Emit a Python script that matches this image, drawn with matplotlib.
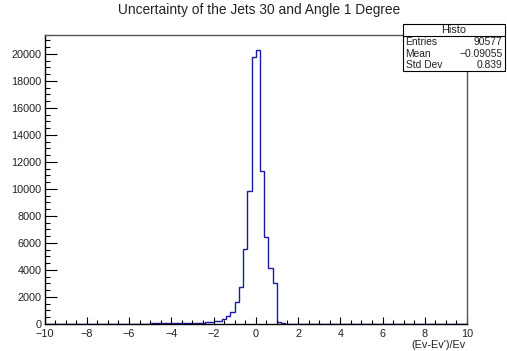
"""
Histogram of the relative energy uncertainty (Ev-Ev')/Ev, drawn in the ROOT look.
"""
import matplotlib.pyplot as plt
from matplotlib.patches import Rectangle
from matplotlib.ticker import MultipleLocator

plt.rcParams['font.family'] = ['Liberation Sans', 'DejaVu Sans']

# 100 bins of width 0.2 between -10 and 10
x_low = -10.0
x_high = 10.0
bin_width = 0.2
counts = [
    8, 9, 10, 10, 11, 12, 12, 13, 14, 15,
    16, 17, 18, 19, 20, 22, 23, 24, 26, 28,
    30, 32, 33, 35, 37, 39, 41, 43, 45, 47,
    50, 54, 58, 63, 69, 76, 84, 95, 115, 150,
    190, 250, 350, 590, 910, 1650, 2750, 5520, 9860, 19780,
    20300, 11340, 6460, 4120, 3070, 180, 60, 25, 12, 6,
    3, 2, 1, 1, 0, 0, 0, 0, 0, 0,
    0, 0, 0, 0, 0, 0, 0, 0, 0, 0,
    0, 0, 0, 0, 0, 0, 0, 0, 0, 0,
    0, 0, 0, 0, 0, 0, 0, 0, 0, 0,
]

title = "Uncertainty of the Jets 30 and Angle 1 Degree"
x_label = "(Ev-Ev')/Ev"
stats_name = "Histo"
stats_rows = [("Entries", "90577"), ("Mean", "\u22120.09055"), ("Std Dev", "0.839")]


def build_figure():
    """Draw the step histogram and the stats box."""
    edges = [x_low + bin_width * i for i in range(len(counts) + 1)]

    fig = plt.figure(figsize=(5.07, 3.51), dpi=100)
    ax = fig.add_axes([0.0878, 0.0769, 0.8333, 0.8231])

    ax.stairs(counts, edges, color='#1a1aa0', linewidth=1.0, baseline=0)

    ax.set_xlim(x_low, x_high)
    ax.set_ylim(0, 21380)
    ax.xaxis.set_major_locator(MultipleLocator(2))
    ax.xaxis.set_minor_locator(MultipleLocator(0.5))
    ax.yaxis.set_major_locator(MultipleLocator(2000))
    ax.yaxis.set_minor_locator(MultipleLocator(500))

    ax.tick_params(axis='both', which='both', direction='in', top=False, right=False,
                   labelsize=7.8, width=0.8, color='black', labelcolor='#222222')
    ax.tick_params(axis='x', which='major', length=5.2, pad=3.5)
    ax.tick_params(axis='x', which='minor', length=2.7)
    ax.tick_params(axis='y', which='major', length=8.4, pad=2)
    ax.tick_params(axis='y', which='minor', length=3.8)

    for side in ('left', 'bottom'):
        ax.spines[side].set_color('black')
        ax.spines[side].set_linewidth(1.0)
    for side in ('top', 'right'):
        ax.spines[side].set_color('#555555')
        ax.spines[side].set_linewidth(1.0)

    fig.text(0.51, 0.972, title, ha='center', va='center', fontsize=9.9, color='#222222')
    fig.text(0.919, 0.004, x_label, ha='right', va='bottom', fontsize=7.8, color='#222222')

    # stats box (figure coordinates)
    box_left, box_right = 0.795, 0.996
    box_top, box_bottom = 0.932, 0.797
    header_line = 0.898
    fig.patches.append(Rectangle((box_left, box_bottom), box_right - box_left,
                                 box_top - box_bottom, transform=fig.transFigure,
                                 facecolor='white', edgecolor='black', linewidth=0.8,
                                 zorder=5))
    fig.add_artist(plt.Line2D([box_left, box_right], [header_line, header_line],
                              transform=fig.transFigure, color='black', linewidth=0.8,
                              zorder=6))
    fig.text((box_left + box_right) / 2, (box_top + header_line) / 2, stats_name,
             ha='center', va='center', fontsize=7.8, zorder=7, color='#222222')
    row_h = (header_line - box_bottom) / len(stats_rows)
    for i, (name, value) in enumerate(stats_rows):
        y = header_line - row_h * (i + 0.5)
        fig.text(box_left + 0.005, y, name, ha='left', va='center', fontsize=7.4,
                 zorder=7, color='#222222')
        fig.text(box_right - 0.005, y, value, ha='right', va='center', fontsize=7.4,
                 zorder=7, color='#222222')

    plt.savefig('out.png', dpi=100)


if __name__ == "__main__":
    build_figure()
